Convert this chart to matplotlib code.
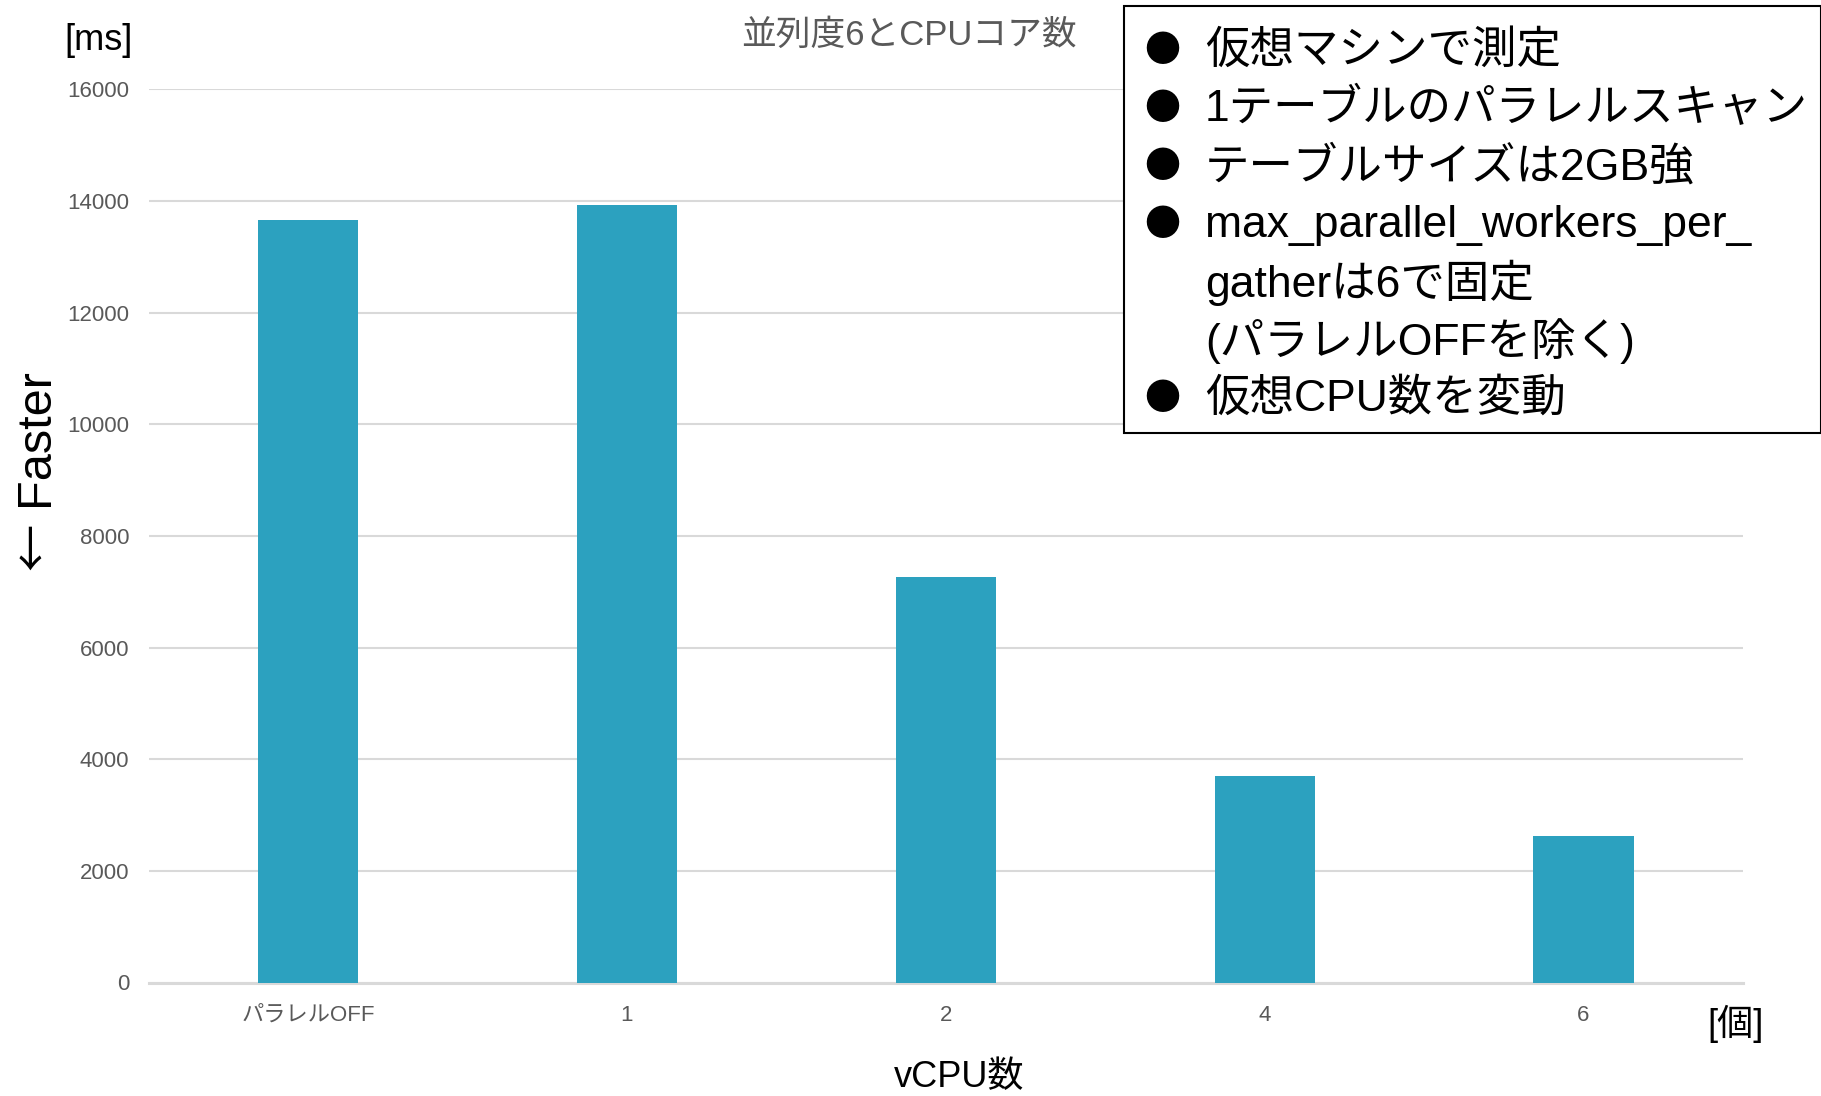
import matplotlib.pyplot as plt
from matplotlib.patches import Rectangle

plt.rcParams['font.family'] = ['Liberation Sans', 'Noto Sans CJK JP', 'DejaVu Sans']

# vCPU count vs. query time
categories = ["パラレルOFF", "1", "2", "4", "6"]
times_ms = [13660, 13930, 7270, 3700, 2625]
yticks = [0, 2000, 4000, 6000, 8000, 10000, 12000, 14000, 16000]

notes = [
    ("●", "仮想マシンで測定"),
    ("●", "1テーブルのパラレルスキャン"),
    ("●", "テーブルサイズは2GB強"),
    ("●", "max_parallel_workers_per_"),
    ("", "gatherは6で固定"),
    ("", "(パラレルOFFを除く)"),
    ("●", "仮想CPU数を変動"),
]

W, H = 1821, 1096
fig = plt.figure(figsize=(W / 100, H / 100), dpi=100)
ax = fig.add_axes([148.6 / W, 1 - 982.5 / H, (1743 - 148.6) / W, (982.5 - 89.4) / H])

x = range(len(categories))
ax.bar(x, times_ms, width=0.314, color="#2CA1BF", zorder=3)

ax.set_ylim(0, 16000)
ax.set_xlim(-0.5, len(categories) - 0.5)
ax.set_yticks(yticks)
ax.set_xticks(list(x))
ax.set_xticklabels(categories)
ax.grid(axis="y", color="#D9D9D9", linewidth=1.5, zorder=0)
for s in ["top", "right", "left"]:
    ax.spines[s].set_visible(False)
ax.spines["bottom"].set_color("#D9D9D9")
ax.spines["bottom"].set_linewidth(2.2)
ax.tick_params(axis="both", length=0, labelsize=16, labelcolor="#595959")
ax.tick_params(axis="y", pad=14)
ax.tick_params(axis="x", pad=16)

# titles and axis labels
fig.text(909 / W, 1 - 35 / H, "並列度6とCPUコア数", ha="center", va="center",
         fontsize=25, color="#595959")
fig.text(99 / W, 1 - 41 / H, "[ms]", ha="center", va="center", fontsize=26)
fig.text(35 / W, 1 - 437 / H, "Faster", ha="center", va="center",
         fontsize=35, rotation=90)
fig.text(35 / W, 1 - 546 / H, "←", ha="center", va="center",
         fontsize=34, rotation=90, family="Noto Sans CJK JP")
fig.text(959 / W, 1 - 1078 / H, "vCPU数", ha="center", va="center", fontsize=26)
fig.text(1736 / W, 1 - 1024 / H, "[個]", ha="center", va="center", fontsize=26)

# note box
fig.patches.append(Rectangle((1124 / W, 1 - 433 / H), (1821 - 1124) / W, (433 - 6) / H,
                             transform=fig.transFigure, facecolor="white",
                             edgecolor="black", linewidth=1.5, zorder=5))
y0 = 51
for i, (bullet, line) in enumerate(notes):
    yy = 1 - (y0 + i * 58) / H
    if bullet:
        fig.text(1162 / W, yy, bullet, ha="center", va="center", fontsize=26,
                 family="Noto Sans CJK JP", zorder=6)
    fig.text(1205 / W, yy, line, ha="left", va="center", fontsize=32, zorder=6)

fig.savefig("out.png", dpi=100)
